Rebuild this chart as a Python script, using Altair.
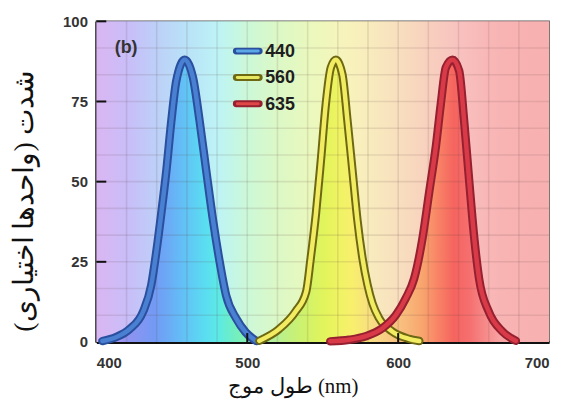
import altair as alt
import pandas as pd

# ---- data ----
series_names = ["440", "560", "635"]

blue_nm = [404, 413, 422, 431, 436.4, 439.7, 443, 446.4, 449.7, 453, 458.5, 464, 468.4, 472.8, 477.3, 481.7, 486, 492.7, 499, 506]
blue_val = [0.3, 1.5, 4, 9.5, 17.8, 28, 40, 53.5, 69, 81.5, 88, 82.5, 69, 53.5, 38, 25, 14.5, 7.3, 3, 0.3]

yellow_nm = [508, 521, 532, 539, 542, 545.5, 548.8, 552, 555.4, 558.7, 563, 566.4, 569.7, 573, 576.4, 579.7, 583, 587.4, 596, 607, 614]
yellow_val = [0.4, 4, 9.5, 15.6, 26, 40, 56.7, 74, 85.6, 88, 83.5, 69, 53.5, 38, 26, 17.8, 12, 7.4, 3.3, 1, 0.3]

red_nm = [555, 567.5, 578.6, 589.6, 598.5, 605, 610.6, 616, 620.5, 625, 628.3, 631.6, 636, 640.4, 643.7, 647, 650.3, 653.6, 660, 669, 678]
red_val = [0.2, 0.7, 1.8, 4.3, 8.4, 13.6, 19.8, 32, 46.5, 61, 74.4, 85.6, 88, 84.6, 69, 50.6, 33, 19.8, 9.5, 3.3, 0.4]

x_labels = [400, 500, 600, 700]
y_labels = [0, 25, 50, 75, 100]
x_inner_ticks = [500, 600]
y_inner_ticks = [25, 50, 75, 100]
grid_x = [420, 440, 460, 480, 500, 520, 540, 560, 580, 600, 620, 640, 660, 680]
grid_y = [100 * k / 12 for k in range(1, 12)]

# ---- styles ----
inner_colors = ["#4a80d2", "#f2ec62", "#d83a48"]
outline_colors = ["#2a4f9e", "#6e6812", "#962030"]
legend_inner = ["#5aa8e8", "#e8e860", "#e04848"]

pale_stops = [(400, "#dab6f2"), (420, "#c9bdf8"), (440, "#bdd0f8"), (460, "#b9e2f8"),
              (480, "#bdf3f6"), (500, "#ccf8d8"), (520, "#dcf8c6"), (545, "#ecf8bc"),
              (565, "#f8f4bc"), (590, "#f8e6be"), (615, "#f8d4be"), (640, "#f8c2bf"),
              (665, "#f8b4b4"), (700, "#f8b0b0")]
sat_stops = [(400, "#c8a2f0"), (420, "#8e90f0"), (440, "#6c98f4"), (460, "#5cc4f6"),
             (478, "#52e8ee"), (495, "#72f0b2"), (512, "#acf0a6"), (530, "#c2f074"),
             (550, "#e0f454"), (568, "#f8f266"), (588, "#f8d488"), (605, "#f8b878"),
             (620, "#f89a64"), (630, "#f87060"), (640, "#f45858"), (652, "#f57878"),
             (670, "#f8a8a8"), (700, "#f8aaaa")]


def hex2rgb(h):
    return [int(h[i:i + 2], 16) for i in (1, 3, 5)]


def color_at(stops, nm):
    for (a, ca), (b, cb) in zip(stops[:-1], stops[1:]):
        if a <= nm <= b:
            t = (nm - a) / (b - a)
            ra, rb = hex2rgb(ca), hex2rgb(cb)
            return "#" + "".join(f"{round(x + (y - x) * t):02x}" for x, y in zip(ra, rb))
    return stops[-1][1] if nm > stops[-1][0] else stops[0][1]


def gradient_for(stops, lo, hi, n=12):
    gs = []
    for i in range(n + 1):
        nm = lo + (hi - lo) * i / n
        gs.append(alt.GradientStop(color=color_at(stops, nm), offset=i / n))
    return alt.Gradient(gradient="linear", stops=gs, x1=0, x2=1, y1=0, y2=0)


rows = []
for name, xs, ys in zip(series_names, [blue_nm, yellow_nm, red_nm], [blue_val, yellow_val, red_val]):
    for a, b in zip(xs, ys):
        rows.append({"series": name, "nm": a, "val": b})
df = pd.DataFrame(rows)

W, H = 456, 323
xscale = alt.Scale(domain=[400, 700], nice=False, zero=False)
yscale = alt.Scale(domain=[0, 100], nice=False)

base_x = alt.X("nm:Q", scale=xscale)
base_y = alt.Y("val:Q", scale=yscale)

# background gradient
bg = alt.Chart(pd.DataFrame({"a": [400], "b": [700], "c": [0], "d": [100]})).mark_rect(
    color=gradient_for(pale_stops, 400, 700, 30)
).encode(
    x=alt.X("a:Q", scale=xscale,
            axis=alt.Axis(values=x_labels, title="طول موج (nm)", tickSize=0, labelPadding=14,
                          grid=False)),
    x2="b:Q",
    y=alt.Y("c:Q", scale=yscale,
            axis=alt.Axis(values=y_labels, title="شدت (واحدها اختیاری)", tickSize=0, labelPadding=9,
                          grid=False)),
    y2="d:Q",
)

layers = [bg]

# saturated fills under the curves
for name, xs in zip(series_names, [blue_nm, yellow_nm, red_nm]):
    layers.append(
        alt.Chart(df).transform_filter(alt.datum.series == name).mark_area(
            color=gradient_for(sat_stops, min(xs), max(xs)), interpolate="monotone", opacity=0.95
        ).encode(x=base_x, y=base_y)
    )

# grid
layers.append(alt.Chart(pd.DataFrame({"g": grid_x})).mark_rule(color="#5a4040", opacity=0.13, strokeWidth=1.6)
              .encode(x=alt.X("g:Q", scale=xscale)))
layers.append(alt.Chart(pd.DataFrame({"g": grid_y})).mark_rule(color="#5a4040", opacity=0.13, strokeWidth=1.6)
              .encode(y=alt.Y("g:Q", scale=yscale)))

# curves
for name, oc, ic in zip(series_names, outline_colors, inner_colors):
    sub = alt.Chart(df).transform_filter(alt.datum.series == name)
    layers.append(sub.mark_line(color=oc, strokeWidth=8.5, interpolate="monotone", strokeCap="round")
                  .encode(x=base_x, y=base_y))
    layers.append(sub.mark_line(color=ic, strokeWidth=4.5, interpolate="monotone", strokeCap="round")
                  .encode(x=base_x, y=base_y))

# legend (drawn as marks)
leg = pd.DataFrame({"label": series_names, "row": [0, 1, 2],
                    "oc": outline_colors, "ic": legend_inner})
leg_base = alt.Chart(leg).transform_calculate(py="30 + 26.5 * datum.row")
layers.append(leg_base.mark_rule(strokeWidth=7, strokeCap="round").encode(
    x=alt.value(141), x2=alt.value(164), y=alt.Y("py:Q", scale=None),
    color=alt.Color("oc:N", scale=None)))
layers.append(leg_base.mark_rule(strokeWidth=3, strokeCap="round").encode(
    x=alt.value(142), x2=alt.value(163), y=alt.Y("py:Q", scale=None),
    color=alt.Color("ic:N", scale=None)))
layers.append(leg_base.mark_text(font="Liberation Sans", fontWeight="bold", fontSize=18, color="#1e1e1e",
                                 align="left", baseline="middle", dy=1).encode(
    x=alt.value(170), y=alt.Y("py:Q", scale=None), text="label:N"))

# inner ticks
layers.append(alt.Chart(pd.DataFrame({"t": x_inner_ticks})).mark_rule(color="#111", strokeWidth=2)
              .encode(x=alt.X("t:Q", scale=xscale), y=alt.value(H), y2=alt.value(H - 9)))
layers.append(alt.Chart(pd.DataFrame({"t": y_inner_ticks})).mark_rule(color="#111", strokeWidth=2)
              .encode(y=alt.Y("t:Q", scale=yscale), x=alt.value(0), x2=alt.value(10)))

# panel tag
layers.append(alt.Chart(pd.DataFrame({"t": ["(b)"]})).mark_text(
    font="Liberation Sans", fontWeight="bold", fontSize=18, color="#333", align="center", baseline="middle"
).encode(text="t:N", x=alt.value(30), y=alt.value(27)))

chart = alt.layer(*layers).properties(
    width=W, height=H,
    autosize=alt.AutoSizeParams(type="none"),
    padding={"left": 89, "top": 12, "right": 10, "bottom": 56},
).configure_view(stroke="#555", strokeWidth=1.5).configure_axis(
    domainColor="#111", domainWidth=3,
    labelFont="Liberation Sans", labelFontWeight="bold", labelFontSize=15, labelColor="#333",
    titleFont="Liberation Serif", titleFontWeight="normal", titleColor="#111",
).configure_axisX(
    titleFontSize=21, titleX=198, titleY=45, titleBaseline="middle", titleAlign="center"
).configure_axisY(
    titleFontSize=28, titleX=-72, titleY=181, titleBaseline="middle", titleAlign="center"
)

chart.save("out.html", embed_options={"renderer": "svg", "actions": False})
